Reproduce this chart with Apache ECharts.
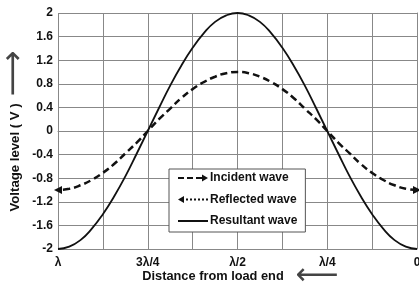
<!DOCTYPE html>
<html>
<head>
<meta charset="utf-8">
<script src="https://cdn.jsdelivr.net/npm/echarts@6/dist/echarts.min.js"></script>
<style>html,body{margin:0;padding:0;background:#fff}#c{width:419px;height:285px}</style>
</head>
<body>
<div id="c"></div>
<script>
// distance from load end, in wavelengths
var distance = [0, 0.03125, 0.0625, 0.09375, 0.125, 0.15625, 0.1875, 0.21875, 0.25,
  0.28125, 0.3125, 0.34375, 0.375, 0.40625, 0.4375, 0.46875, 0.5,
  0.53125, 0.5625, 0.59375, 0.625, 0.65625, 0.6875, 0.71875, 0.75,
  0.78125, 0.8125, 0.84375, 0.875, 0.90625, 0.9375, 0.96875, 1];
var incident = [-1.00, -0.98, -0.92, -0.83, -0.71, -0.56, -0.38, -0.20, 0.00,
  0.20, 0.38, 0.56, 0.71, 0.83, 0.92, 0.98, 1.00,
  0.98, 0.92, 0.83, 0.71, 0.56, 0.38, 0.20, 0.00,
  -0.20, -0.38, -0.56, -0.71, -0.83, -0.92, -0.98, -1.00];
var reflected = [-1.00, -0.98, -0.92, -0.83, -0.71, -0.56, -0.38, -0.20, 0.00,
  0.20, 0.38, 0.56, 0.71, 0.83, 0.92, 0.98, 1.00,
  0.98, 0.92, 0.83, 0.71, 0.56, 0.38, 0.20, 0.00,
  -0.20, -0.38, -0.56, -0.71, -0.83, -0.92, -0.98, -1.00];
var resultant = [-2.00, -1.96, -1.85, -1.66, -1.41, -1.11, -0.77, -0.39, 0.00,
  0.39, 0.77, 1.11, 1.41, 1.66, 1.85, 1.96, 2.00,
  1.96, 1.85, 1.66, 1.41, 1.11, 0.77, 0.39, 0.00,
  -0.39, -0.77, -1.11, -1.41, -1.66, -1.85, -1.96, -2.00];
var xTickPos = [0, 0.25, 0.5, 0.75, 1];
var xTickLabels = ['0', 'λ/4', 'λ/2', '3λ/4', 'λ'];
var seriesNames = ['Incident wave', 'Reflected wave', 'Resultant wave'];

function pairs(vals, arrowAt, rot) {
  return distance.map(function (d, i) {
    var item = { value: [d, vals[i]] };
    if (i === arrowAt) {
      item.symbol = 'triangle';
      item.symbolSize = [8, 8];
      item.symbolRotate = rot;
    }
    return item;
  });
}

var FONT = 'Liberation Sans Narrow, Liberation Sans';
var chart = echarts.init(document.getElementById('c'), null, { renderer: 'canvas' });
chart.setOption({
  animation: false,
  backgroundColor: '#fff',
  textStyle: { fontFamily: FONT },
  grid: { left: 58, right: 2, top: 13, bottom: 36, outerBoundsMode: 'none', containLabel: false },
  legend: {
    orient: 'vertical',
    left: 169, top: 169,
    backgroundColor: '#fff',
    borderColor: '#555', borderWidth: 1,
    padding: [3, 8, 5, 9],
    itemGap: 9.5,
    itemWidth: 30, itemHeight: 7,
    textStyle: { fontFamily: FONT, fontWeight: 'bold', fontSize: 12, color: '#111', padding: [0, 0, 0, -3] },
    data: [
      { name: seriesNames[0], icon: 'path://M0,2.5h6v2h-6z M9,2.5h6v2h-6z M18,2.5h6v2h-6z M24,0l6,3.5l-6,3.5z', itemStyle: { color: '#111' } },
      { name: seriesNames[1], icon: 'path://M0,3.5l6,-3.5v7z M8,2.5h2v2h-2z M12,2.5h2v2h-2z M16,2.5h2v2h-2z M20,2.5h2v2h-2z M24,2.5h2v2h-2z M28,2.5h2v2h-2z', itemStyle: { color: '#111' } },
      { name: seriesNames[2], icon: 'path://M0,2.5h30v2h-30z', itemStyle: { color: '#111' } }
    ]
  },
  xAxis: {
    type: 'value', min: 0, max: 1, interval: 0.125, inverse: true,
    name: 'Distance from load end{arr|⟵}',
    nameLocation: 'middle', nameGap: 20, nameMoveOverlap: false,
    nameTextStyle: {
      fontFamily: FONT, fontWeight: 'bold', fontSize: 12.8, color: '#111', padding: [0, 0, 0, 6], lineHeight: 14,
      rich: { arr: { fontFamily: 'DejaVu Sans', fontSize: 30, lineHeight: 14, color: '#444', fontWeight: 'normal', padding: [0, 0, 0, 12] } }
    },
    axisLine: { lineStyle: { color: '#888', width: 1 } },
    axisTick: { show: false },
    splitLine: { show: true, lineStyle: { color: '#888', width: 1 } },
    axisLabel: {
      margin: 8, fontFamily: FONT, fontWeight: 'bold', fontSize: 12, color: '#111',
      formatter: function (v) {
        for (var i = 0; i < xTickPos.length; i++) {
          if (Math.abs(v - xTickPos[i]) < 1e-6) return xTickLabels[i];
        }
        return '';
      }
    }
  },
  yAxis: {
    type: 'value', min: -2, max: 2, interval: 0.4,
    name: 'Voltage level ( V ){arr|⟶}',
    nameLocation: 'middle', nameGap: 36, nameRotate: 90, nameMoveOverlap: false,
    nameTextStyle: {
      fontFamily: FONT, fontWeight: 'bold', fontSize: 13.2, color: '#111', lineHeight: 14,
      rich: { arr: { fontFamily: 'DejaVu Sans', fontSize: 32, lineHeight: 14, color: '#444', fontWeight: 'normal', padding: [0, 0, 0, 7] } }
    },
    axisLine: { show: true, lineStyle: { color: '#888', width: 1 } },
    axisTick: { show: false },
    splitLine: { show: true, lineStyle: { color: '#888', width: 1 } },
    axisLabel: {
      margin: 5, fontFamily: FONT, fontWeight: 'bold', fontSize: 12, color: '#111',
      formatter: function (v) { return String(Math.round(v * 10) / 10); }
    }
  },
  series: [
    {
      name: seriesNames[1], type: 'line', data: pairs(reflected, distance.length - 1, 90),
      symbol: 'none', showSymbol: true, smooth: true, z: 2,
      itemStyle: { color: '#111' },
      lineStyle: { color: '#111', width: 2.5, type: [2, 2], opacity: 0 }
    },
    {
      name: seriesNames[0], type: 'line', data: pairs(incident, 0, -90),
      symbol: 'none', showSymbol: true, smooth: true, z: 3,
      itemStyle: { color: '#111' },
      lineStyle: { color: '#111', width: 2.5, type: [7, 4] }
    },
    {
      name: seriesNames[2], type: 'line', data: pairs(resultant, -1, 0),
      symbol: 'none', smooth: true, z: 3,
      itemStyle: { color: '#111' },
      lineStyle: { color: '#111', width: 1.8 }
    }
  ]
});
</script>
</body>
</html>
